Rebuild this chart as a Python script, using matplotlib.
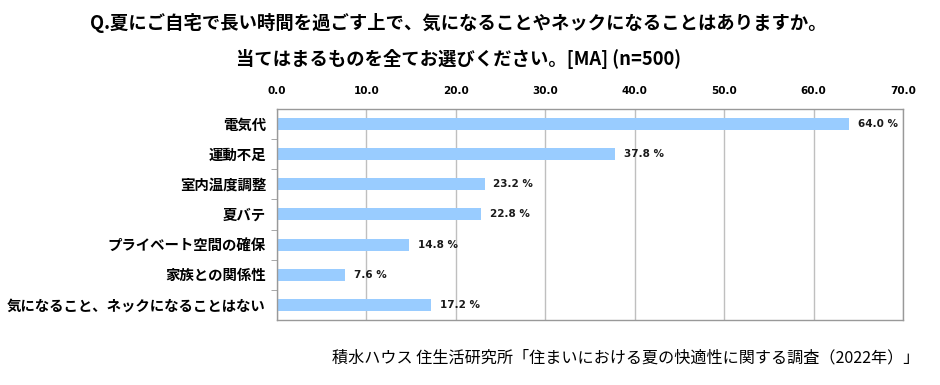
import matplotlib
matplotlib.use("Agg")
from matplotlib import pyplot as plt
import numpy as np

plt.rcParams['font.family'] = ['Noto Sans CJK JP', 'DejaVu Sans']

# data
categories = ["電気代", "運動不足", "室内温度調整", "夏バテ",
              "プライベート空間の確保", "家族との関係性",
              "気になること、ネックになることはない"]
values = [64.0, 37.8, 23.2, 22.8, 14.8, 7.6, 17.2]
x_ticks = [0, 10, 20, 30, 40, 50, 60, 70]

title1 = "Q.夏にご自宅で長い時間を過ごす上で、気になることやネックになることはありますか。"
title2 = "当てはまるものを全てお選びください。[MA] (n=500)"
source = "積水ハウス 住生活研究所「住まいにおける夏の快適性に関する調査（2022年）」"

fig = plt.figure(figsize=(9.4, 3.85), dpi=100)
ax = fig.add_axes([0.2947, 0.169, 0.666, 0.548])

y = np.arange(len(categories))
ax.barh(y, values, height=0.4, color="#99CCFF", zorder=2)

for i, v in enumerate(values):
    ax.text(v + 1.0, y[i], f"{v:.1f} %", va="center", ha="left",
            fontsize=7.5, fontweight="bold", family="DejaVu Sans", color="#1a1a1a")

ax.set_xlim(0, 70)
ax.set_ylim(len(categories) - 0.5, -0.5)
ax.set_xticks(x_ticks)
ax.set_xticklabels([f"{t:.1f}" for t in x_ticks], fontsize=7.5,
                   fontweight="bold", family="DejaVu Sans")
ax.xaxis.tick_top()
ax.tick_params(axis="x", length=0, pad=9)

ax.set_yticks(y)
ax.set_yticklabels(categories, fontsize=10.4, fontweight="bold")
ax.tick_params(axis="y", which="major", length=0, pad=8)
ax.set_yticks(np.arange(len(categories) - 1) + 0.5, minor=True)
ax.tick_params(axis="y", which="minor", length=4, color="#999999")

ax.grid(axis="x", color="#BFBFBF", linewidth=1, zorder=0)
ax.set_axisbelow(True)
for s in ax.spines.values():
    s.set_color("#999999")
    s.set_linewidth(1)

fig.text(0.488, 0.94, title1, ha="center", va="center", fontsize=13.2, fontweight="bold")
fig.text(0.488, 0.847, title2, ha="center", va="center", fontsize=13.2, fontweight="bold")
fig.text(0.978, 0.07, source, ha="right", va="center", fontsize=11.6)

fig.savefig("out.png", dpi=100)
